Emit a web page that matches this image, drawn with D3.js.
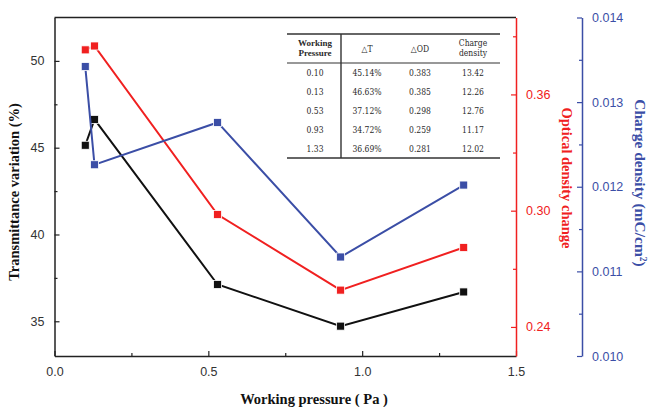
<!DOCTYPE html>
<html><head><meta charset="utf-8">
<script src="https://cdn.jsdelivr.net/npm/d3@7"></script>
<style>body{margin:0;background:#fff}svg{display:block}</style>
</head><body><svg id="c" width="649" height="407"></svg>
<script>
const pressure = [0.10, 0.13, 0.53, 0.93, 1.33];
const transmittance = [45.14, 46.63, 37.12, 34.72, 36.69];
const opticalDensity = [0.383, 0.385, 0.298, 0.259, 0.281];
const chargeDensity = [0.01342, 0.01226, 0.01276, 0.01117, 0.01202];
const tableHeader = ["Working\nPressure", "△T", "△OD", "Charge\ndensity"];
const tableRows = [
  ["0.10", "45.14%", "0.383", "13.42"],
  ["0.13", "46.63%", "0.385", "12.26"],
  ["0.53", "37.12%", "0.298", "12.76"],
  ["0.93", "34.72%", "0.259", "11.17"],
  ["1.33", "36.69%", "0.281", "12.02"]
];
const xTicks = [0, 0.5, 1.0, 1.5];
const tTicks = [35, 40, 45, 50];
const odTicks = [0.24, 0.30, 0.36];
const cdTicks = [0.010, 0.011, 0.012, 0.013, 0.014];

const svg = d3.select("#c");
const L = 54.5, R = 516, T = 17.5, B = 356;
const BLUEX = 582;
const cBlack = "#111", cRed = "#f02020", cBlue = "#3b4ea6";
const x = d3.scaleLinear().domain([0, 1.5]).range([L, R]);
const yT = d3.scaleLinear().domain([33, 52.5]).range([B, T]);
const yOD = d3.scaleLinear().domain([0.225, 0.3997]).range([B, T]);
const yCD = d3.scaleLinear().domain([0.010, 0.014]).range([B, T]);

svg.append("line").attr("x1", L).attr("x2", R).attr("y1", T).attr("y2", T).attr("stroke", "#222").attr("stroke-width", 1.5);

function styleAxis(g, col, labCol) {
  g.select(".domain").attr("stroke", col).attr("stroke-width", 1.5);
  g.selectAll(".tick line").attr("stroke", col).attr("stroke-width", 1.2);
  g.selectAll(".tick text").attr("fill", labCol).attr("font-family", "Liberation Sans, Arial, sans-serif").attr("font-size", 12.5);
}

const gx = svg.append("g").attr("transform", `translate(0,${B})`)
  .call(d3.axisBottom(x).tickValues(xTicks).tickFormat(d3.format(".1f")).tickSizeInner(-5).tickSizeOuter(0).tickPadding(11));
styleAxis(gx, "#222", "#333");
svg.append("g").attr("transform", `translate(0,${B})`)
  .call(d3.axisBottom(x).tickValues([0.25, 0.75, 1.25]).tickFormat("").tickSizeInner(-3).tickSizeOuter(0))
  .call(g => { g.select(".domain").remove(); g.selectAll("line").attr("stroke", "#222").attr("stroke-width", 1.2); });

const gl = svg.append("g").attr("transform", `translate(${L},0)`)
  .call(d3.axisLeft(yT).tickValues(tTicks).tickSizeInner(-5).tickSizeOuter(0).tickPadding(10));
styleAxis(gl, "#222", "#333");
svg.append("g").attr("transform", `translate(${L},0)`)
  .call(d3.axisLeft(yT).tickValues([37.5, 42.5, 47.5]).tickFormat("").tickSizeInner(-3).tickSizeOuter(0))
  .call(g => { g.select(".domain").remove(); g.selectAll("line").attr("stroke", "#222").attr("stroke-width", 1.2); });

const gr = svg.append("g").attr("transform", `translate(${R},0)`)
  .call(d3.axisRight(yOD).tickValues(odTicks).tickFormat(d3.format(".2f")).tickSizeInner(-5).tickSizeOuter(0).tickPadding(10));
styleAxis(gr, cRed, cRed);
svg.append("g").attr("transform", `translate(${R},0)`)
  .call(d3.axisRight(yOD).tickValues([0.27, 0.33, 0.39]).tickFormat("").tickSizeInner(-3).tickSizeOuter(0))
  .call(g => { g.select(".domain").remove(); g.selectAll("line").attr("stroke", cRed).attr("stroke-width", 1.2); });

const gb = svg.append("g").attr("transform", `translate(${BLUEX},0)`)
  .call(d3.axisRight(yCD).tickValues(cdTicks).tickFormat(d3.format(".3f")).tickSizeInner(-5).tickSizeOuter(0).tickPadding(10));
styleAxis(gb, cBlue, cBlue);
svg.append("g").attr("transform", `translate(${BLUEX},0)`)
  .call(d3.axisRight(yCD).tickValues([0.0105, 0.0115, 0.0125, 0.0135]).tickFormat("").tickSizeInner(-3).tickSizeOuter(0))
  .call(g => { g.select(".domain").remove(); g.selectAll("line").attr("stroke", cBlue).attr("stroke-width", 1.2); });

const series = [
  {vals: transmittance, y: yT, col: cBlack},
  {vals: opticalDensity, y: yOD, col: cRed},
  {vals: chargeDensity, y: yCD, col: cBlue}
];
series.forEach(s => {
  const pts = pressure.map((p, i) => [p, s.vals[i]]);
  svg.append("path").datum(pts)
    .attr("d", d3.line().x(d => x(d[0])).y(d => s.y(d[1])))
    .attr("fill", "none").attr("stroke", s.col).attr("stroke-width", 2);
  svg.append("g").selectAll("rect").data(pts).join("rect")
    .attr("x", d => x(d[0]) - 4).attr("y", d => s.y(d[1]) - 4)
    .attr("width", 8).attr("height", 8)
    .attr("fill", s.col).attr("stroke", "#fff").attr("stroke-width", 0.8);
});

const serif = "Liberation Serif, Times New Roman, serif";
svg.append("text").attr("transform", "translate(19,192) rotate(-90)")
  .attr("text-anchor", "middle").attr("font-family", serif).attr("font-weight", "bold").attr("font-size", 14.5)
  .attr("fill", "#111").text("Transmittance variation (%)");
svg.append("text").attr("transform", "translate(562,178) rotate(90)")
  .attr("text-anchor", "middle").attr("font-family", serif).attr("font-weight", "bold").attr("font-size", 14.5)
  .attr("fill", cRed).text("Optical density change");
const cdt = svg.append("text").attr("transform", "translate(635,183) rotate(90)")
  .attr("text-anchor", "middle").attr("font-family", serif).attr("font-weight", "bold").attr("font-size", 15.5)
  .attr("fill", cBlue);
cdt.append("tspan").text("Charge density (mC/cm");
cdt.append("tspan").attr("font-size", 9.5).attr("dy", -5).text("2");
cdt.append("tspan").attr("dy", 5).text(")");
svg.append("text").attr("x", 314).attr("y", 404)
  .attr("text-anchor", "middle").attr("font-family", serif).attr("font-weight", "bold").attr("font-size", 14.5)
  .attr("fill", "#111").text("Working pressure ( Pa )");

const tb = svg.append("g");
const tx0 = 287, tx1 = 500;
const colX = [315, 367, 420, 473];
const rowY = [73, 92, 111, 130, 149];
tb.append("line").attr("x1", tx0).attr("x2", tx1).attr("y1", 34).attr("y2", 34).attr("stroke", "#333").attr("stroke-width", 1.6);
tb.append("line").attr("x1", tx0).attr("x2", tx1).attr("y1", 63).attr("y2", 63).attr("stroke", "#333").attr("stroke-width", 1.2);
tb.append("line").attr("x1", tx0).attr("x2", tx1).attr("y1", 158).attr("y2", 158).attr("stroke", "#333").attr("stroke-width", 1.6);
tb.append("line").attr("x1", 341).attr("x2", 341).attr("y1", 34).attr("y2", 158).attr("stroke", "#333").attr("stroke-width", 1.4);
tableHeader.forEach((h, i) => {
  const lines = h.split("\n");
  const t = tb.append("text").attr("text-anchor", "middle")
    .attr("font-family", i === 0 ? serif : "DejaVu Serif Condensed, DejaVu Serif, serif")
    .attr("font-weight", i === 0 ? "bold" : "normal")
    .attr("font-size", i === 0 ? 9 : 8.5).attr("fill", "#2a2a2a");
  if (lines.length === 1) {
    t.attr("x", colX[i]).attr("y", 52).text(lines[0]);
  } else {
    lines.forEach((ln, k) => t.append("tspan").attr("x", colX[i]).attr("y", 46 + k * 10).text(ln));
  }
});
tableRows.forEach((row, r) => {
  row.forEach((v, c) => {
    tb.append("text").attr("x", colX[c]).attr("y", rowY[r] + 3).attr("text-anchor", "middle")
      .attr("font-family", "DejaVu Serif Condensed, DejaVu Serif, serif").attr("font-size", 8.5).attr("fill", "#2a2a2a").text(v);
  });
});
</script></body></html>
